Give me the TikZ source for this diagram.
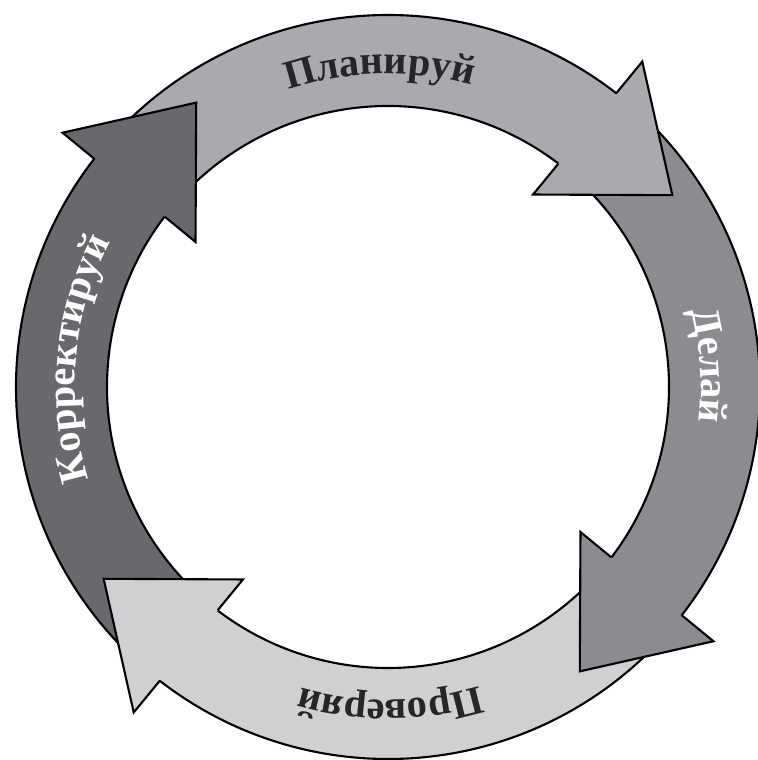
\documentclass[tikz,border=0pt]{standalone}
\usepackage{fontspec}
\setmainfont{Liberation Serif}
\usepackage{tikz}
\usetikzlibrary{calc}
\usetikzlibrary{decorations.text}

\definecolor{plangray}{HTML}{A9AAAE}
\definecolor{dogray}{HTML}{8B8C90}
\definecolor{checkgray}{HTML}{CFD0D2}
\definecolor{actgray}{HTML}{68696D}
\newcommand{\wordfont}{\bfseries\fontsize{11.5}{14}\selectfont}

\begin{document}
\begin{tikzpicture}[ring/.style={black,line width=.6pt},
    word/.style={decorate,decoration={text along path,text align=center,text={#1}}}]
        \useasboundingbox (-3.88,-3.73) rectangle (3.69,3.87);

        \fill[plangray] (142:3.72) arc[start angle=142,end angle=52,radius=3.72] -- (52:2.81) arc[start angle=52,end angle=142,radius=2.81] -- cycle;
        \draw[ring] (142:3.72) arc[start angle=142,end angle=50,radius=3.72];
        \draw[ring] (142:2.81) arc[start angle=142,end angle=50,radius=2.81];

        \fill[dogray] (52:3.72) arc[start angle=52,end angle=-38,radius=3.72] -- (-38:2.81) arc[start angle=-38,end angle=52,radius=2.81] -- cycle;
        \draw[ring] (52:3.72) arc[start angle=52,end angle=-40,radius=3.72];
        \draw[ring] (52:2.81) arc[start angle=52,end angle=-40,radius=2.81];

        \fill[checkgray] (-38:3.72) arc[start angle=-38,end angle=-128,radius=3.72] -- (-128:2.81) arc[start angle=-128,end angle=-38,radius=2.81] -- cycle;
        \draw[ring] (-38:3.72) arc[start angle=-38,end angle=-130,radius=3.72];
        \draw[ring] (-38:2.81) arc[start angle=-38,end angle=-130,radius=2.81];

        \fill[actgray] (232:3.72) arc[start angle=232,end angle=142,radius=3.72] -- (142:2.81) arc[start angle=142,end angle=232,radius=2.81] -- cycle;
        \draw[ring] (232:3.72) arc[start angle=232,end angle=140,radius=3.72];
        \draw[ring] (232:2.81) arc[start angle=232,end angle=140,radius=2.81];

        \fill[plangray] (52:4.13) -- (34:3.43) -- (53:2.41) -- cycle;
        \draw[ring] ($(52:4.13)!.24!(53:2.41)$) -- (52:4.13) -- (34:3.43) -- (53:2.41) -- ($(52:4.13)!.77!(53:2.41)$);

        \fill[dogray] (-38:4.13) -- (-56:3.43) -- (-37:2.41) -- cycle;
        \draw[ring] ($(-38:4.13)!.24!(-37:2.41)$) -- (-38:4.13) -- (-56:3.43) -- (-37:2.41) -- ($(-38:4.13)!.77!(-37:2.41)$);

        \fill[checkgray] (-128:4.13) -- (-146:3.43) -- (-127:2.41) -- cycle;
        \draw[ring] ($(-128:4.13)!.24!(-127:2.41)$) -- (-128:4.13) -- (-146:3.43) -- (-127:2.41) -- ($(-128:4.13)!.77!(-127:2.41)$);

        \fill[actgray] (142:4.13) -- (124:3.43) -- (143:2.41) -- cycle;
        \draw[ring] ($(142:4.13)!.24!(143:2.41)$) -- (142:4.13) -- (124:3.43) -- (143:2.41) -- ($(142:4.13)!.77!(143:2.41)$);

        \path[word={|\wordfont\color{black!85}|Планируй}] (131.5:3.13) arc[start angle=131.5,end angle=51.5,radius=3.13];
        \path[word={|\wordfont\color{white}|Делай}] (38.8:3.13) arc[start angle=38.8,end angle=-31.2,radius=3.13];
        \path[word={|\wordfont\color{black!85}|Проверяй}] (-54.6:3.13) arc[start angle=-54.6,end angle=-124.6,radius=3.13];
        \path[word={|\wordfont\color{white}|Корректируй}] (214.7:3.13) arc[start angle=214.7,end angle=134.7,radius=3.13];
      \end{tikzpicture}
\end{document}
